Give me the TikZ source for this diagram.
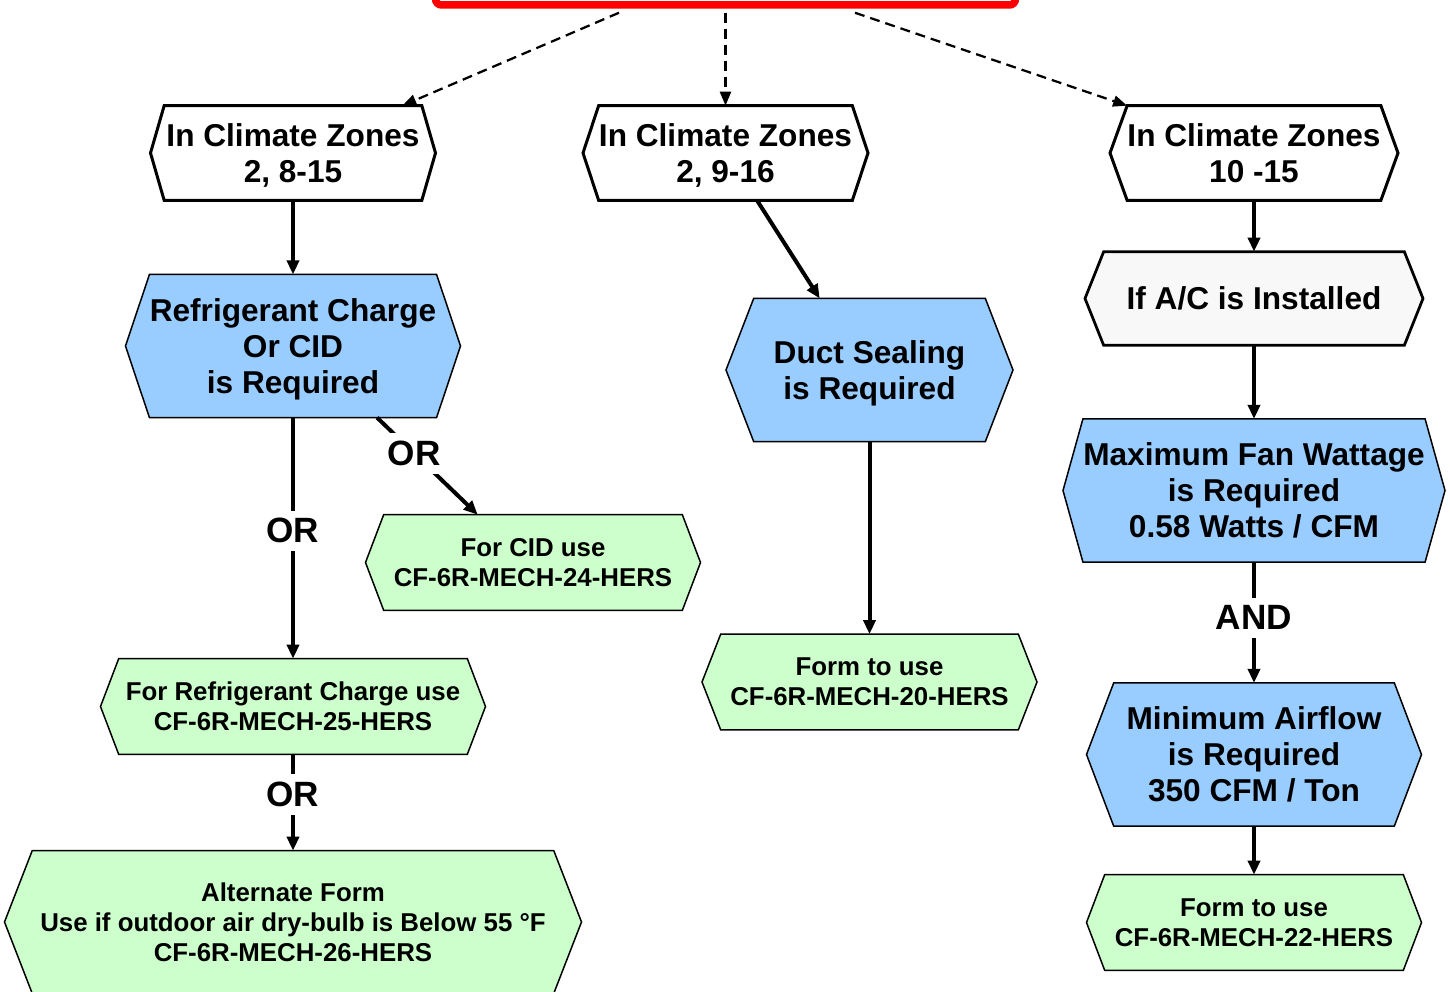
\documentclass[tikz,border=0pt]{standalone}
\usepackage{fontspec}
\setmainfont{Liberation Sans}
\usetikzlibrary{arrows.meta,calc,backgrounds}
\definecolor{reqblue}{HTML}{99CCFF}
\definecolor{formgreen}{HTML}{CCFFCC}
\definecolor{condgray}{HTML}{F8F8F8}

\begin{document}
\begin{tikzpicture}[x=0.02cm, y=-0.02cm]
        \tikzset{hexa/.style 2 args={inner sep=0pt, align=center, text depth=0pt,
                    append after command={\pgfextra{\begin{pgfonlayer}{background}
                        \draw[#2] (\tikzlastnode.north west) -- (\tikzlastnode.north east)
                            -- ($(\tikzlastnode.center)+(#1,0)$) -- (\tikzlastnode.south east)
                            -- (\tikzlastnode.south west) -- ($(\tikzlastnode.center)-(#1,0)$) -- cycle;
                    \end{pgfonlayer}}}},
                 big/.style={font=\bfseries\fontsize{18}{20.5}\selectfont},
                 small/.style={font=\bfseries\fontsize{14.7}{17}\selectfont},
                 zone/.style={hexa={#1}{fill=white, line width=0.06cm}, big, minimum height=1.88cm},
                 cond/.style={hexa={#1}{fill=condgray, line width=0.055cm}, big, minimum height=1.86cm},
                 req/.style={hexa={#1}{fill=reqblue, line width=0.03cm}, big, minimum height=2.85cm},
                 form/.style={hexa={#1}{fill=formgreen, line width=0.03cm}, small, minimum height=1.9cm},
                 gate/.style={fill=white, inner sep=4.5pt, font=\bfseries\fontsize{20}{24}\selectfont},
                 arr/.style={line width=0.08cm, -{Triangle[width=0.24cm, length=0.28cm]}},
                 darr/.style={line width=0.045cm, dash pattern=on 0.2cm off 0.12cm,
                              -{Triangle[width=0.22cm, length=0.28cm]}}}
        \useasboundingbox (0,0) rectangle (1450,991);

        \node [draw=red, line width=0.15cm, rounded corners=0.12cm, fill=white,
               minimum width=11.6cm, minimum height=1.6cm] (src) at (725.5,-35) {};

        \node [zone=142.5, minimum width=5.14cm] (z1) at (293,153)    {In Climate Zones\\2, 8-15};
        \node [zone=142.5, minimum width=4.94cm] (z2) at (725.5,153)  {In Climate Zones\\2, 9-16};
        \node [zone=144,   minimum width=5.02cm] (z3) at (1254,153)   {In Climate Zones\\10 -15};

        \node [req=167.5,  minimum width=5.58cm] (ref)  at (293,346)    {Refrigerant Charge\\Or CID\\is Required};
        \node [req=143.5,  minimum width=4.62cm] (duct) at (869.5,370)  {Duct Sealing\\is Required};
        \node [cond=169,   minimum width=6.0cm]  (ac)   at (1254,298.5) {If A/C is Installed};
        \node [req=191,    minimum width=6.5cm]  (fan)  at (1254,490.5) {Maximum Fan Wattage\\is Required\\0.58 Watts / CFM};
        \node [req=167.5,  minimum width=5.6cm]  (air)  at (1254,754.5) {Minimum Airflow\\is Required\\350 CFM / Ton};

        \node [form=167.5, minimum width=5.96cm]  (cid) at (533,562.5)   {For CID use\\CF-6R-MECH-24-HERS};
        \node [form=192.5, minimum width=6.96cm]  (f25) at (293,706.5)   {For Refrigerant Charge use\\CF-6R-MECH-25-HERS};
        \node [form=288.5, minimum width=10.42cm, minimum height=2.84cm] (f26) at (293,922)
              {Alternate Form\\Use if outdoor air dry-bulb is Below 55 °F\\CF-6R-MECH-26-HERS};
        \node [form=167.5, minimum width=5.94cm]  (f20) at (869.5,682)   {Form to use\\CF-6R-MECH-20-HERS};
        \node [form=167.5, minimum width=5.96cm]  (f22) at (1254,922.5)  {Form to use\\CF-6R-MECH-22-HERS};

        \draw [darr] ($(src.south)+(-106.5,4)$) -- ($(z1.north east)+(-19.5,0)$);
        \draw [darr] ($(src.south)+(0,4)$) -- (z2.north);
        \draw [darr] ($(src.south)+(129.5,4)$) -- (z3.north west);

        \draw [arr] (z1.south) -- (ref.north);
        \draw [arr] (ref.south) -- node [gate, pos=0.47] {OR} (f25.north);
        \draw [arr] ($(ref.south east)+(-59.5,0)$) -- node [gate, pos=0.37] {OR} ($(cid.north west)+(94,0)$);
        \draw [arr] (f25.south) -- node [gate, pos=0.42] {OR} (f26.north);

        \draw [arr] ($(z2.south)+(31.5,0)$) -- ($(duct.north west)+(66,0)$);
        \draw [arr] (duct.south) -- (f20.north);

        \draw [arr] (z3.south) -- (ac.north);
        \draw [arr] (ac.south) -- (fan.north);
        \draw [arr] (fan.south) -- node [gate, pos=0.46] {AND} (air.north);
        \draw [arr] (air.south) -- (f22.north);
    \end{tikzpicture}
\end{document}
